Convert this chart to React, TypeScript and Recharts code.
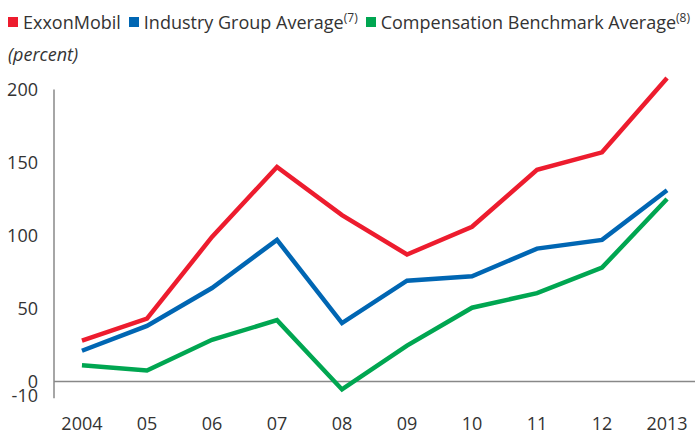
import { Line, LineChart, ReferenceLine, XAxis, YAxis } from "recharts"

const years = ["2004", "05", "06", "07", "08", "09", "10", "11", "12", "2013"]
const exxonMobil = [28, 43, 99, 147, 114, 87, 106, 145, 157, 208]
const industryGroup = [21, 38, 64, 97, 40, 69, 72, 91, 97, 131]
const compBenchmark = [11, 7.5, 28.5, 42, -5.5, 24.5, 50.5, 60.5, 78, 125]
const yTicks = [-10, 0, 50, 100, 150, 200]

const RED = "#ed1c2e"
const BLUE = "#0066b3"
const GREEN = "#00a651"
const FONT = "'Open Sans', sans-serif"
const X_MIN = -0.43
const X_MAX = 9.43

const data = years.map((year, i) => ({
  idx: i,
  year,
  exxon: exxonMobil[i],
  industry: industryGroup[i],
  benchmark: compBenchmark[i],
}))

const legendItems = [
  { color: RED, label: "ExxonMobil", note: "" },
  { color: BLUE, label: "Industry Group Average", note: "(7)" },
  { color: GREEN, label: "Compensation Benchmark Average", note: "(8)" },
]

function ChartLegend() {
  return (
    <div
      style={{
        position: "absolute",
        left: 8,
        top: 9,
        fontFamily: FONT,
        color: "#333",
        fontSize: 18,
        lineHeight: "26px",
      }}
    >
      <div style={{ display: "flex", alignItems: "center", whiteSpace: "nowrap" }}>
        {legendItems.map((item) => (
          <span key={item.label} style={{ display: "inline-flex", alignItems: "center", marginRight: 8 }}>
            <span style={{ width: 10, height: 10, background: item.color, marginRight: 5 }} />
            <span>
              {item.label}
              {item.note && <sup style={{ fontSize: 12, lineHeight: 0 }}>{item.note}</sup>}
            </span>
          </span>
        ))}
      </div>
      <div style={{ fontStyle: "italic", marginTop: 6 }}>(percent)</div>
    </div>
  )
}

export default function App() {
  return (
    <div style={{ position: "absolute", left: 0, top: 0, width: 699, height: 433, background: "#fff" }}>
      <LineChart data={data} height={433} margin={{ top: 75, right: 4, bottom: 7, left: 0 }} width={699}>
        <XAxis
          axisLine={false}
          dataKey="idx"
          domain={[X_MIN, X_MAX]}
          height={30}
          interval={0}
          tick={{ fill: "#333", fontSize: 18, fontFamily: FONT }}
          tickFormatter={(i: number) => years[i] ?? ""}
          tickLine={false}
          tickMargin={15}
          ticks={years.map((_, i) => i)}
          type="number"
        />
        <YAxis
          axisLine={false}
          domain={[-10, 210]}
          interval={0}
          tick={{ fill: "#333", fontSize: 18, fontFamily: FONT }}
          tickLine={false}
          tickMargin={10}
          ticks={yTicks}
          type="number"
          width={54}
        />
        <ReferenceLine
          ifOverflow="visible"
          segment={[
            { x: X_MIN, y: -11.5 },
            { x: X_MIN, y: 200 },
          ]}
          stroke="#888"
          strokeWidth={1.5}
        />
        <ReferenceLine stroke="#888" strokeWidth={1.5} y={0} />
        <Line dataKey="benchmark" dot={false} isAnimationActive={false} stroke={GREEN} strokeWidth={4.5} />
        <Line dataKey="industry" dot={false} isAnimationActive={false} stroke={BLUE} strokeWidth={4.5} />
        <Line dataKey="exxon" dot={false} isAnimationActive={false} stroke={RED} strokeWidth={4.5} />
      </LineChart>
      <ChartLegend />
    </div>
  )
}
